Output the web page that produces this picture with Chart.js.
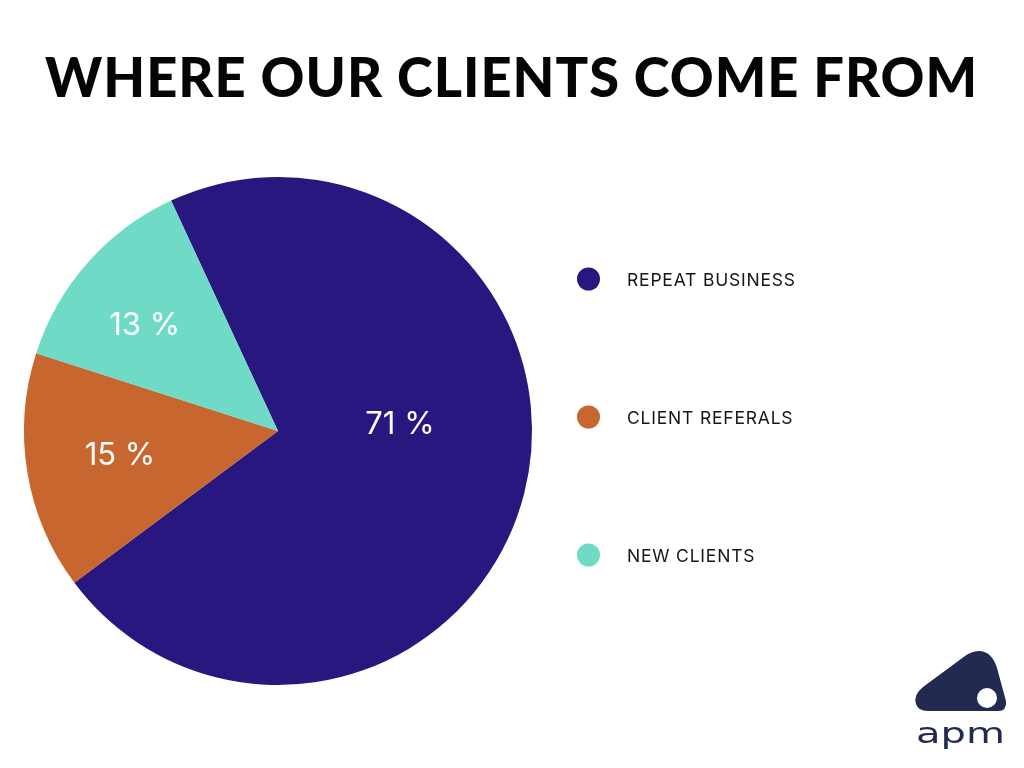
<!DOCTYPE html>
<html>
<head>
<meta charset="utf-8">
<script src="https://cdn.jsdelivr.net/npm/chart.js@4.4.1/dist/chart.umd.min.js"></script>
<style>
  html, body { margin: 0; padding: 0; background: #ffffff; }
  #wrap { position: relative; width: 1024px; height: 768px; overflow: hidden; }
  #c { position: absolute; left: 0; top: 0; }
  #logo { position: absolute; left: 900px; top: 640px; }
</style>
</head>
<body>
<div id="wrap">
  <canvas id="c" width="1024" height="768"></canvas>
  <svg id="logo" width="124" height="128" viewBox="900 640 124 128">
    <path d="M928 711 L998 711 Q1007 711 1006 701 L997 668 Q992 652 980 651 Q972 651 965 656 L923 687 Q913 695 916 704 Q918 711 928 711 Z" fill="#232a4f"/>
    <circle cx="987" cy="698" r="10" fill="#ffffff"/>
    <text x="916" y="743" font-family="DejaVu Sans" font-size="29" font-weight="400" fill="#232a4f" textLength="89" lengthAdjust="spacingAndGlyphs">apm</text>
  </svg>
</div>
<script>
const TITLE = "WHERE OUR CLIENTS COME FROM";
const categories = ["REPEAT BUSINESS", "CLIENT REFERALS", "NEW CLIENTS"];
const shares = [71, 15, 13];
const valueLabels = ["71 %", "15 %", "13 %"];
const colors = ["#27177f", "#c7672f", "#6fdbc6"];

// label placement styles (fraction of radius, angular offset in degrees)
const labelRadiusFrac = [0.481, 0.629, 0.672];
const labelAngleOffset = [-17.5, 0.95, -2.85];

const textPlugin = {
  id: 'textPlugin',
  afterDatasetsDraw(chart) {
    const ctx = chart.ctx;
    const meta = chart.getDatasetMeta(0);
    ctx.save();
    // slice value labels
    ctx.fillStyle = "#ffffff";
    ctx.font = "400 31px Inter, 'Liberation Sans', sans-serif";
    ctx.textAlign = "center";
    ctx.textBaseline = "middle";
    meta.data.forEach((arc, i) => {
      const p = arc.getProps(['x', 'y', 'startAngle', 'endAngle', 'outerRadius'], true);
      const mid = (p.startAngle + p.endAngle) / 2 + labelAngleOffset[i] * Math.PI / 180;
      const r = p.outerRadius * labelRadiusFrac[i];
      ctx.fillText(valueLabels[i], p.x + Math.cos(mid) * r, p.y + Math.sin(mid) * r + 1);
    });
    // title (stretched horizontally to the reference width)
    ctx.save();
    ctx.fillStyle = "#050505";
    ctx.textAlign = "left";
    ctx.textBaseline = "alphabetic";
    ctx.font = "900 55px Lato, 'Liberation Sans', sans-serif";
    ctx.letterSpacing = "1px";
    const w = ctx.measureText(TITLE).width;
    const sx = 933 / w;
    ctx.translate(45, 97);
    ctx.scale(sx, 1);
    ctx.fillText(TITLE, 0, 0);
    ctx.restore();
    // legend
    const legendY = [279, 417, 555];
    ctx.textAlign = "left";
    ctx.textBaseline = "alphabetic";
    ctx.font = "400 17.5px Inter, 'Noto Sans', sans-serif";
    categories.forEach((name, i) => {
      ctx.letterSpacing = "0px";
      ctx.fillStyle = colors[i];
      ctx.beginPath();
      ctx.arc(588.5, legendY[i], 11.5, 0, Math.PI * 2);
      ctx.fill();
      ctx.fillStyle = "#151515";
      ctx.letterSpacing = "0.8px";
      ctx.fillText(name, 627, legendY[i] + 6.5);
    });
    ctx.restore();
  }
};

new Chart(document.getElementById('c'), {
  type: 'pie',
  data: {
    labels: categories,
    datasets: [{
      data: shares,
      backgroundColor: colors,
      borderWidth: 0,
      hoverOffset: 0
    }]
  },
  options: {
    responsive: false,
    animation: false,
    rotation: -24.9,
    layout: { padding: { left: 24, top: 177, right: 492, bottom: 83 } },
    plugins: {
      legend: { display: false },
      tooltip: { enabled: false },
      title: { display: false }
    }
  },
  plugins: [textPlugin]
});
</script>
</body>
</html>
